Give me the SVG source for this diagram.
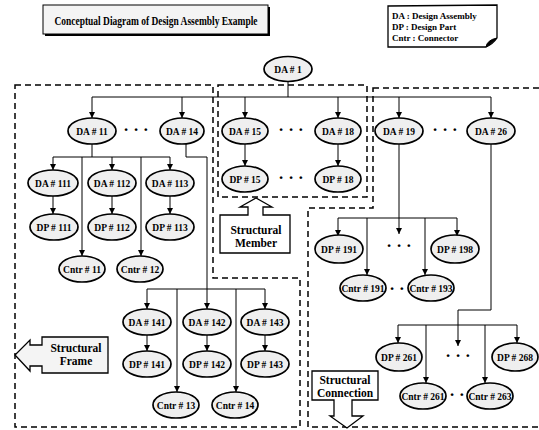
<svg xmlns="http://www.w3.org/2000/svg" width="539" height="430" viewBox="0 0 539 430">
<style>
.n ellipse{fill:#efefef;stroke:#000;stroke-width:1.7}
.t{font-family:"Liberation Serif",serif;font-weight:bold;font-size:9.5px;text-anchor:middle;fill:#000}
.lb{font-family:"Liberation Serif",serif;font-weight:bold;font-size:11.5px;text-anchor:middle;fill:#000}
.lg{font-family:"Liberation Serif",serif;font-weight:bold;font-size:9px;fill:#000}
.dots{font-family:"Liberation Serif",serif;font-weight:bold;font-size:17px;text-anchor:middle;fill:#000}
.c path{fill:none;stroke:#000;stroke-width:1}
.c .a{marker-end:url(#ah)}
.box{fill:none;stroke:#000;stroke-width:1.5;stroke-dasharray:6 4}
</style>
<defs>
<marker id="ah" markerUnits="userSpaceOnUse" markerWidth="7" markerHeight="7" refX="6" refY="3" orient="auto">
<path d="M0,0 L6,3 L0,6 Z" fill="#000"/>
</marker>
</defs>
<rect width="539" height="430" fill="#fff"/>

<g id="title">
<rect x="45" y="7" width="225" height="29" fill="#000"/>
<rect x="43" y="5" width="225" height="29" fill="#f4f4f4" stroke="#000" stroke-width="1"/>
<text x="156" y="25" font-family="'Liberation Serif',serif" font-weight="bold" font-size="12" text-anchor="middle" textLength="203" lengthAdjust="spacingAndGlyphs">Conceptual Diagram of Design Assembly Example</text>
</g>

<g id="legend">
<path d="M388,6 L497,5 L497,38 Q493,44 486,47 L388,47 Z" fill="#fff" stroke="#000" stroke-width="1.3"/>
<path d="M486,47 Q487,40 497,38 Q491,44 486,47 Z" fill="#000" stroke="#000" stroke-width="1"/>
<text class="lg" x="392" y="19">DA : Design Assembly</text>
<text class="lg" x="392" y="30">DP  : Design Part</text>
<text class="lg" x="392" y="41">Cntr : Connector</text>
</g>

<g id="groups">
<path class="box" d="M15,85 H213 V278 H300 V427 H15 Z"/>
<path class="box" d="M218,85 H367 V197 H218 Z"/>
<path class="box" d="M373,88 H541 V427 H308 V208 H373 Z"/>
</g>

<g id="labels">
<g id="structural-frame">
<path d="M42,337 H108 V373 H42 V366 H30 V371 L15,355 L30,340 V345 H42 Z" fill="#f4f4f4" stroke="#000" stroke-width="1.3"/>
<text class="lb" x="76" y="352">Structural</text>
<text class="lb" x="76" y="365">Frame</text>
</g>
<g id="structural-member">
<path d="M220,215 H248 V207 H240 L256,198 L272,207 H263 V215 H290 V253 H220 Z" fill="#fff" stroke="#000" stroke-width="1.3"/>
<text class="lb" x="256" y="234">Structural</text>
<text class="lb" x="256" y="247">Member</text>
</g>
<g id="structural-connection">
<path d="M312,371 H378 V400 H352 V416 H363 L347,428 L330,416 H334 V400 H312 Z" fill="#fff" stroke="#000" stroke-width="1.3"/>
<text class="lb" x="345" y="384">Structural</text>
<text class="lb" x="345" y="397">Connection</text>
</g>
</g>

<g id="connectors" class="c">
<path d="M288,82 V97"/>
<path d="M92,97 H491"/>
<path class="a" d="M92,97 V118"/>
<path class="a" d="M182,97 V118"/>
<path class="a" d="M245,97 V118"/>
<path class="a" d="M338,97 V118"/>
<path class="a" d="M399,97 V118"/>
<path class="a" d="M491,97 V118"/>
<path class="a" d="M245,144 V166"/>
<path class="a" d="M338,144 V166"/>
<path d="M92,144 V157"/>
<path d="M53,157 H170"/>
<path class="a" d="M53,157 V170"/>
<path class="a" d="M112,157 V170"/>
<path class="a" d="M170,157 V170"/>
<path class="a" d="M82,157 V256"/>
<path class="a" d="M141,157 V256"/>
<path class="a" d="M53,196 V214"/>
<path class="a" d="M112,196 V214"/>
<path class="a" d="M170,196 V214"/>
<path class="a" d="M186,144 V157 H207 V309"/>
<path d="M147,289 H265"/>
<path class="a" d="M147,289 V309"/>
<path class="a" d="M265,289 V309"/>
<path class="a" d="M177,289 V392"/>
<path class="a" d="M236,289 V392"/>
<path class="a" d="M147,335 V351"/>
<path class="a" d="M207,335 V351"/>
<path class="a" d="M265,335 V351"/>
<path class="a" d="M399,144 V234"/>
<path d="M338,218 H457"/>
<path class="a" d="M338,218 V236"/>
<path class="a" d="M457,218 V236"/>
<path class="a" d="M367,218 V275"/>
<path class="a" d="M425,218 V275"/>
<path class="a" d="M491,144 V310 H458 V346"/>
<path d="M398,325 H517"/>
<path class="a" d="M398,325 V343"/>
<path class="a" d="M517,325 V343"/>
<path class="a" d="M426,325 V383"/>
<path class="a" d="M485,325 V383"/>
</g>

<g id="ellipsis">
<text class="dots" x="136" y="135">· · ·</text>
<text class="dots" x="291" y="135">· · ·</text>
<text class="dots" x="291" y="183">· · ·</text>
<text class="dots" x="445" y="135">· · ·</text>
<text class="dots" x="399" y="251">· · ·</text>
<text class="dots" x="397" y="294">· ·</text>
<text class="dots" x="458" y="361">· · ·</text>
<text class="dots" x="457" y="400">· ·</text>
</g>

<g id="da1" class="n"><ellipse cx="288" cy="69" rx="24" ry="12.5"/><text class="t" x="288" y="72.5">DA # 1</text></g>
<g id="da11" class="n"><ellipse cx="92" cy="131" rx="24" ry="13"/><text class="t" x="92" y="134.5">DA # 11</text></g>
<g id="da14" class="n"><ellipse cx="182" cy="131" rx="22" ry="13"/><text class="t" x="182" y="134.5">DA # 14</text></g>
<g id="da15" class="n"><ellipse cx="245" cy="131" rx="23" ry="13"/><text class="t" x="245" y="134.5">DA # 15</text></g>
<g id="da18" class="n"><ellipse cx="338" cy="131" rx="23" ry="13"/><text class="t" x="338" y="134.5">DA # 18</text></g>
<g id="da19" class="n"><ellipse cx="399" cy="131" rx="24" ry="13"/><text class="t" x="399" y="134.5">DA # 19</text></g>
<g id="da26" class="n"><ellipse cx="491" cy="131" rx="24" ry="13"/><text class="t" x="491" y="134.5">DA # 26</text></g>
<g id="dp15" class="n"><ellipse cx="245" cy="179" rx="23" ry="13"/><text class="t" x="245" y="182.5">DP # 15</text></g>
<g id="dp18" class="n"><ellipse cx="338" cy="179" rx="23" ry="13"/><text class="t" x="338" y="182.5">DP # 18</text></g>
<g id="da111" class="n"><ellipse cx="53" cy="183" rx="25" ry="13"/><text class="t" x="53" y="186.5">DA # 111</text></g>
<g id="da112" class="n"><ellipse cx="112" cy="183" rx="24" ry="13"/><text class="t" x="112" y="186.5">DA # 112</text></g>
<g id="da113" class="n"><ellipse cx="170" cy="183" rx="24" ry="13"/><text class="t" x="170" y="186.5">DA # 113</text></g>
<g id="dp111" class="n"><ellipse cx="54" cy="227" rx="24" ry="13"/><text class="t" x="54" y="230.5">DP # 111</text></g>
<g id="dp112" class="n"><ellipse cx="112" cy="227" rx="24" ry="13"/><text class="t" x="112" y="230.5">DP # 112</text></g>
<g id="dp113" class="n"><ellipse cx="170" cy="227" rx="24" ry="13"/><text class="t" x="170" y="230.5">DP # 113</text></g>
<g id="cntr11" class="n"><ellipse cx="82" cy="269" rx="23" ry="13"/><text class="t" x="82" y="272.5">Cntr # 11</text></g>
<g id="cntr12" class="n"><ellipse cx="140" cy="269" rx="23" ry="13"/><text class="t" x="140" y="272.5">Cntr # 12</text></g>
<g id="da141" class="n"><ellipse cx="147" cy="322" rx="24" ry="13"/><text class="t" x="147" y="325.5">DA # 141</text></g>
<g id="da142" class="n"><ellipse cx="207" cy="322" rx="24" ry="13"/><text class="t" x="207" y="325.5">DA # 142</text></g>
<g id="da143" class="n"><ellipse cx="265" cy="322" rx="24" ry="13"/><text class="t" x="265" y="325.5">DA # 143</text></g>
<g id="dp141" class="n"><ellipse cx="147" cy="364" rx="24" ry="13"/><text class="t" x="147" y="367.5">DP # 141</text></g>
<g id="dp142" class="n"><ellipse cx="207" cy="364" rx="24" ry="13"/><text class="t" x="207" y="367.5">DP # 142</text></g>
<g id="dp143" class="n"><ellipse cx="265" cy="364" rx="24" ry="13"/><text class="t" x="265" y="367.5">DP # 143</text></g>
<g id="cntr13" class="n"><ellipse cx="176" cy="405" rx="23" ry="13"/><text class="t" x="176" y="408.5">Cntr # 13</text></g>
<g id="cntr14" class="n"><ellipse cx="235" cy="405" rx="23" ry="13"/><text class="t" x="235" y="408.5">Cntr # 14</text></g>
<g id="dp191" class="n"><ellipse cx="339" cy="249" rx="24" ry="14"/><text class="t" x="339" y="252.5">DP # 191</text></g>
<g id="dp198" class="n"><ellipse cx="455" cy="249" rx="24" ry="14"/><text class="t" x="455" y="252.5">DP # 198</text></g>
<g id="cntr191" class="n"><ellipse cx="363" cy="288" rx="23" ry="13"/><text class="t" x="363" y="291.5">Cntr # 191</text></g>
<g id="cntr193" class="n"><ellipse cx="431" cy="288" rx="23" ry="13"/><text class="t" x="431" y="291.5">Cntr # 193</text></g>
<g id="dp261" class="n"><ellipse cx="399" cy="357" rx="23" ry="14"/><text class="t" x="399" y="360.5">DP # 261</text></g>
<g id="dp268" class="n"><ellipse cx="515" cy="357" rx="23" ry="14"/><text class="t" x="515" y="360.5">DP # 268</text></g>
<g id="cntr261" class="n"><ellipse cx="423" cy="396" rx="23" ry="13"/><text class="t" x="423" y="399.5">Cntr # 261</text></g>
<g id="cntr263" class="n"><ellipse cx="490" cy="396" rx="23" ry="13"/><text class="t" x="490" y="399.5">Cntr # 263</text></g>
</svg>
